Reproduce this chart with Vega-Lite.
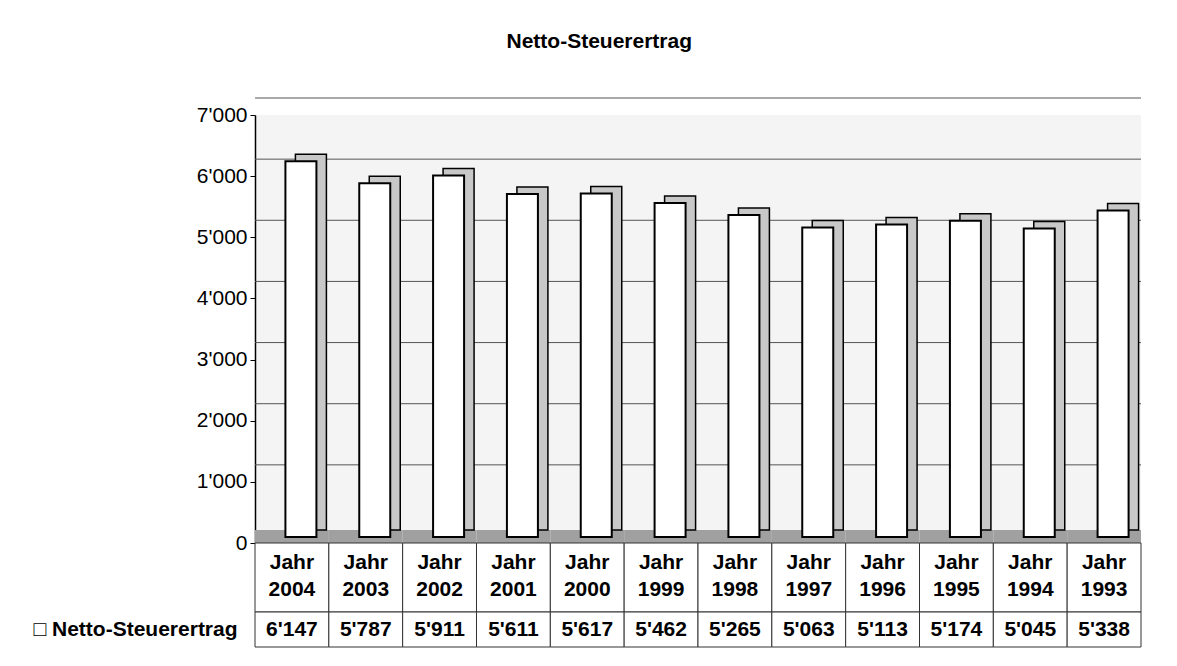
{
  "$schema": "https://vega.github.io/schema/vega-lite/v6.json",
  "background": "white",
  "padding": {"left": 33, "top": 30, "right": 36, "bottom": 19},
  "title": {"text": "Netto-Steuerertrag", "font": "Liberation Sans", "fontSize": 21, "fontWeight": "bold", "color": "black", "anchor": "middle", "frame": "bounds", "offset": 46, "dx": 12},
  "bounds": "flush",
  "spacing": 0,
  "config": {
    "locale": {"number": {"decimal": ".", "thousands": "'", "grouping": [3], "currency": ["", ""]}},
    "font": "Liberation Sans",
    "view": {"stroke": null}
  },
  "datasets": {
    "tax": [
      {"year": "2004", "value": 6147, "serie": "Netto-Steuerertrag"},
      {"year": "2003", "value": 5787, "serie": "Netto-Steuerertrag"},
      {"year": "2002", "value": 5911, "serie": "Netto-Steuerertrag"},
      {"year": "2001", "value": 5611, "serie": "Netto-Steuerertrag"},
      {"year": "2000", "value": 5617, "serie": "Netto-Steuerertrag"},
      {"year": "1999", "value": 5462, "serie": "Netto-Steuerertrag"},
      {"year": "1998", "value": 5265, "serie": "Netto-Steuerertrag"},
      {"year": "1997", "value": 5063, "serie": "Netto-Steuerertrag"},
      {"year": "1996", "value": 5113, "serie": "Netto-Steuerertrag"},
      {"year": "1995", "value": 5174, "serie": "Netto-Steuerertrag"},
      {"year": "1994", "value": 5045, "serie": "Netto-Steuerertrag"},
      {"year": "1993", "value": 5338, "serie": "Netto-Steuerertrag"}
    ],
    "grid": [
      {"g": 1000}, {"g": 2000}, {"g": 3000}, {"g": 4000}, {"g": 5000}, {"g": 6000}, {"g": 7000}
    ]
  },
  "vconcat": [
    {
      "width": 886,
      "height": 428,
      "view": {"fill": "#f4f4f4", "stroke": null},
      "layer": [
        {
          "data": {"name": "grid"},
          "mark": {"type": "rule", "color": "#555555", "strokeWidth": 1, "yOffset": -17},
          "encoding": {
            "y": {
              "field": "g", "type": "quantitative",
              "scale": {"domain": [0, 7000], "nice": false},
              "axis": {
                "values": [0, 1000, 2000, 3000, 4000, 5000, 6000, 7000],
                "format": ",d",
                "title": null,
                "grid": false,
                "domainColor": "black", "domainWidth": 1.5,
                "tickColor": "black", "tickSize": 5,
                "labelFont": "Liberation Sans", "labelFontSize": 21, "labelColor": "black", "labelPadding": 3
              }
            }
          }
        },
        {
          "data": {"name": "tax"},
          "mark": {"type": "rect", "color": "#a0a0a0", "yOffset": -13},
          "encoding": {
            "x": {"field": "year", "type": "nominal", "sort": null, "scale": {"paddingInner": 0, "paddingOuter": 0}, "axis": null},
            "y": {"datum": 0, "type": "quantitative"},
            "y2": {"datum": 0}
          }
        },
        {
          "data": {"name": "tax"},
          "mark": {"type": "bar", "width": 31, "fill": "#c8c8c8", "stroke": "black", "strokeWidth": 1.5, "xOffset": 19, "yOffset": -13, "y2Offset": -13},
          "encoding": {
            "x": {"field": "year", "type": "nominal", "sort": null, "scale": {"paddingInner": 0, "paddingOuter": 0}, "axis": null},
            "y": {"field": "value", "type": "quantitative"}
          }
        },
        {
          "data": {"name": "tax"},
          "mark": {"type": "bar", "width": 31, "fill": "white", "stroke": "black", "strokeWidth": 2, "xOffset": 9, "yOffset": -6, "y2Offset": -6},
          "encoding": {
            "x": {"field": "year", "type": "nominal", "sort": null, "scale": {"paddingInner": 0, "paddingOuter": 0}, "axis": null},
            "y": {"field": "value", "type": "quantitative"}
          }
        }
      ]
    },
    {
      "width": 886,
      "height": 69,
      "data": {"name": "tax"},
      "encoding": {
        "x": {"field": "year", "type": "nominal", "sort": null, "scale": {"paddingInner": 0, "paddingOuter": 0}, "axis": null}
      },
      "layer": [
        {"mark": {"type": "rect", "fill": "white", "stroke": "#333333", "strokeWidth": 1}},
        {"mark": {"type": "text", "font": "Liberation Sans", "fontSize": 21, "fontWeight": "bold", "color": "black", "dy": -15, "baseline": "middle"}, "encoding": {"text": {"value": "Jahr"}}},
        {"mark": {"type": "text", "font": "Liberation Sans", "fontSize": 21, "fontWeight": "bold", "color": "black", "dy": 12, "baseline": "middle"}, "encoding": {"text": {"field": "year"}}}
      ]
    },
    {
      "width": 886,
      "height": 35,
      "data": {"name": "tax"},
      "encoding": {
        "x": {"field": "year", "type": "nominal", "sort": null, "scale": {"paddingInner": 0, "paddingOuter": 0}, "axis": null},
        "y": {
          "field": "serie", "type": "nominal",
          "scale": {"paddingInner": 0, "paddingOuter": 0},
          "axis": {
            "title": null, "domain": false, "ticks": false, "tickSize": 0,
            "labelAlign": "left", "labelPadding": 222, "labelLimit": 0,
            "labelFont": "Liberation Sans", "labelFontSize": 21, "labelFontWeight": "bold", "labelColor": "black",
            "labelExpr": "'□ ' + datum.label"
          }
        }
      },
      "layer": [
        {"mark": {"type": "rect", "fill": "white", "stroke": "#333333", "strokeWidth": 1}},
        {"mark": {"type": "text", "font": "Liberation Sans", "fontSize": 21, "fontWeight": "bold", "color": "black", "baseline": "middle"}, "encoding": {"text": {"field": "value", "type": "quantitative", "format": ",d"}}}
      ]
    }
  ]
}
